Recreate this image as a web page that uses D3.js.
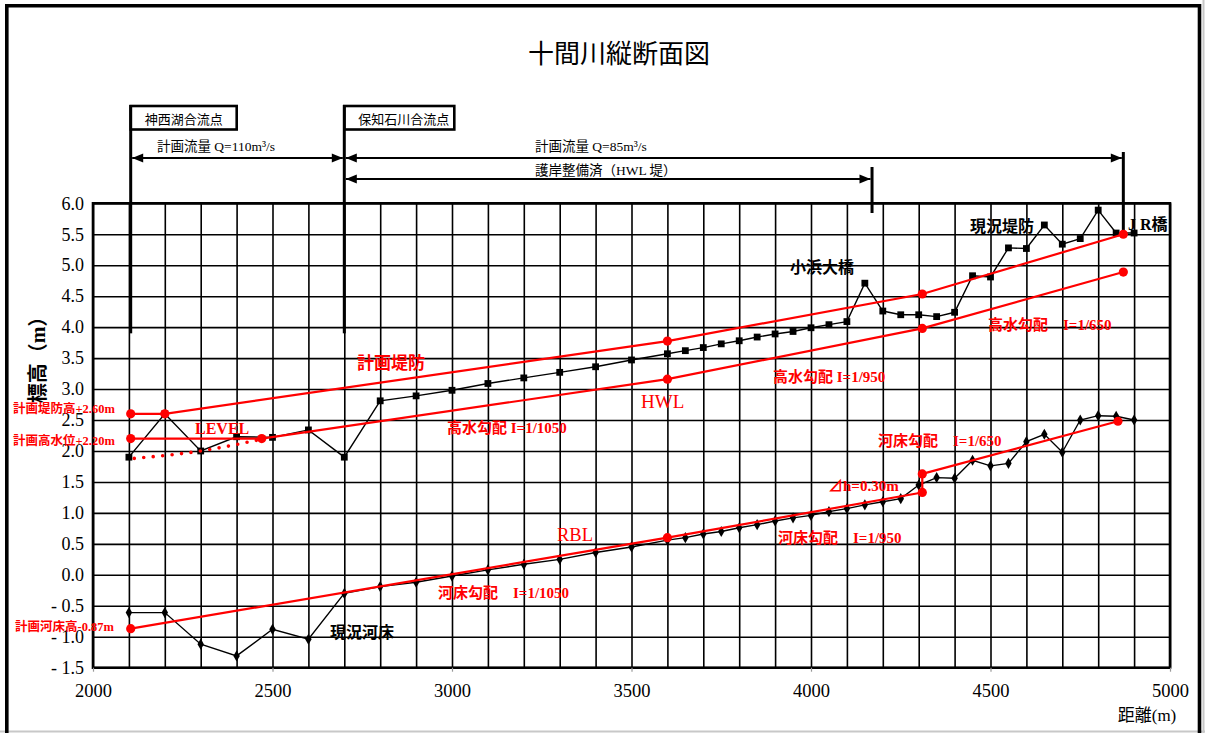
<!DOCTYPE html>
<html>
<head>
<meta charset="utf-8">
<script src="https://cdn.jsdelivr.net/npm/d3@7/dist/d3.min.js"></script>
<style>
  html, body { margin: 0; padding: 0; background: #fff; }
  svg { display: block; }
</style>
</head>
<body>
<svg id="chart" width="1205" height="733"></svg>
<script>
// ---- Data -------------------------------------------------------------
// Survey stations (m): every 100 m to 3600, then every 50 m
const stations = [2100,2200,2300,2400,2500,2600,2700,2800,2900,3000,3100,3200,3300,3400,3500,3600,
  3650,3700,3750,3800,3850,3900,3950,4000,4050,4100,4150,4200,4250,4300,4350,4400,4450,4500,
  4550,4600,4650,4700,4750,4800,4850,4900];
// 現況堤防 (existing levee crown, m)
const leveeExisting = [1.90,2.60,2.00,2.23,2.22,2.34,1.90,2.81,2.89,2.98,3.09,3.18,3.27,3.36,3.47,3.57,
  3.62,3.67,3.73,3.78,3.84,3.89,3.93,3.99,4.04,4.09,4.71,4.26,4.20,4.20,4.17,4.24,4.83,4.81,
  5.28,5.27,5.65,5.34,5.43,5.89,5.52,5.52];
// 現況河床 (existing river bed, m)
const bedExisting = [-0.61,-0.61,-1.12,-1.31,-0.88,-1.04,-0.30,-0.19,-0.12,-0.02,0.08,0.17,0.25,0.36,0.45,0.56,
  0.60,0.66,0.70,0.76,0.81,0.87,0.92,0.96,1.02,1.07,1.13,1.18,1.23,1.45,1.57,1.56,1.85,1.76,
  1.80,2.15,2.27,1.98,2.50,2.57,2.56,2.50];

// 計画堤防 (planned levee)
const planLeveeDist = [2105, 2200, 3600, 4310, 4870];
const planLeveeElev = [2.60, 2.60, 3.775, 4.535, 5.50];
// HWL (planned high water level)
const hwlDist = [2105, 2470, 3600, 4310, 4870];
const hwlElev = [2.20, 2.20, 3.16, 3.98, 4.89];
// RBL (planned river bed), lower reach and upper reach (step Δh = 0.30 m)
const rblLowerDist = [2105, 3600, 4310];
const rblLowerElev = [-0.87, 0.60, 1.33];
const rblUpperDist = [4310, 4855];
const rblUpperElev = [1.63, 2.48];
// LEVEL transition (dotted)
const levelDist = [2115, 2300, 2470];
const levelElev = [1.88, 2.00, 2.19];

// Axis ticks
const xLabelTicks = [2000, 2500, 3000, 3500, 4000, 4500, 5000];
const xGridTicks = d3.range(2000, 5001, 100);
const yTicks = d3.range(-1.5, 6.01, 0.5);

// ---- Layout -----------------------------------------------------------
const svg = d3.select("#chart");
const W = 1205, H = 733;
const plot = { left: 93, right: 1170, top: 203.3, bottom: 667.7 };
const x = d3.scaleLinear().domain([2000, 5000]).range([plot.left, plot.right]);
const y = d3.scaleLinear().domain([-1.5, 6.0]).range([plot.bottom, plot.top]);

const SERIF = "'Liberation Serif', 'Times New Roman', 'Noto Sans CJK JP', serif";
const CJK = "'Liberation Serif', 'Noto Sans CJK JP', sans-serif";
const RED = "#ff0000";

// Outer frame
svg.append("rect").attr("x", 0).attr("y", 0).attr("width", W).attr("height", H).attr("fill", "#fff");
svg.append("line").attr("x1", 0).attr("x2", W).attr("y1", 731.5).attr("y2", 731.5)
  .attr("stroke", "#c8c8c8").attr("stroke-width", 2);
svg.append("line").attr("x1", 1203.5).attr("x2", 1203.5).attr("y1", 0).attr("y2", H)
  .attr("stroke", "#c8c8c8").attr("stroke-width", 2);
svg.append("path")
  .attr("d", `M6.8,${H + 5} V5.8 H1199.5 V${H + 5}`)
  .attr("fill", "none").attr("stroke", "#000").attr("stroke-width", 3.6);

// Title
svg.append("text").attr("x", 619).attr("y", 63)
  .attr("text-anchor", "middle")
  .attr("font-family", "'Noto Sans CJK JP', sans-serif")
  .attr("font-size", 26).attr("fill", "#000")
  .text("十間川縦断面図");

// ---- Grid ---------------------------------------------------------------
const gGrid = svg.append("g");
gGrid.append("g")
  .attr("transform", `translate(0,${plot.bottom})`)
  .call(d3.axisBottom(x).tickValues(xGridTicks).tickSize(-(plot.bottom - plot.top)).tickFormat(""))
  .call(g => g.select(".domain").remove())
  .call(g => g.selectAll(".tick line").attr("stroke", "#000").attr("stroke-width", 1.6));
gGrid.append("g")
  .attr("transform", `translate(${plot.left},0)`)
  .call(d3.axisLeft(y).tickValues(yTicks).tickSize(-(plot.right - plot.left)).tickFormat(""))
  .call(g => g.select(".domain").remove())
  .call(g => g.selectAll(".tick line").attr("stroke", "#000").attr("stroke-width", 1.6));
svg.append("rect")
  .attr("x", plot.left).attr("y", plot.top)
  .attr("width", plot.right - plot.left).attr("height", plot.bottom - plot.top)
  .attr("fill", "none").attr("stroke", "#000").attr("stroke-width", 2.6);

// Axis labels
svg.append("g")
  .attr("transform", `translate(0,${plot.bottom})`)
  .call(d3.axisBottom(x).tickValues(xLabelTicks).tickSize(4).tickPadding(12).tickFormat(d3.format("d")))
  .call(g => g.select(".domain").remove())
  .call(g => g.selectAll(".tick line").attr("stroke", "#999").attr("stroke-width", 1.2))
  .call(g => g.selectAll(".tick text")
    .attr("font-family", SERIF).attr("font-size", 18.5).attr("fill", "#000"));
svg.append("g")
  .attr("transform", `translate(${plot.left - 9},0)`)
  .call(d3.axisLeft(y).tickValues(yTicks).tickSize(0).tickPadding(0)
    .tickFormat(v => v < 0 ? "- " + Math.abs(v).toFixed(1) : v.toFixed(1)))
  .call(g => g.select(".domain").remove())
  .call(g => g.selectAll(".tick text")
    .attr("font-family", SERIF).attr("font-size", 18).attr("fill", "#000"));

svg.append("text").attr("x", 1147).attr("y", 721).attr("text-anchor", "middle")
  .attr("font-family", CJK).attr("font-size", 17).attr("fill", "#000")
  .text("距離(m)");
svg.append("text")
  .attr("transform", `translate(45,355) rotate(-90)`)
  .attr("text-anchor", "middle")
  .attr("font-family", CJK).attr("font-weight", 700).attr("font-size", 20).attr("fill", "#000")
  .text("標高（m）");

// ---- Top annotations --------------------------------------------------------
const ann = svg.append("g");
function vbar(xv, y1, y2) {
  ann.append("line").attr("x1", x(xv)).attr("x2", x(xv)).attr("y1", y1).attr("y2", y2)
    .attr("stroke", "#000").attr("stroke-width", 3);
}
function box(xv, w, label) {
  ann.append("rect").attr("x", x(xv)).attr("y", 106).attr("width", w).attr("height", 23.5)
    .attr("fill", "#fff").attr("stroke", "#000").attr("stroke-width", 2.6);
  ann.append("text").attr("x", x(xv) + 14).attr("y", 124)
    .attr("font-family", "'Noto Sans CJK JP', sans-serif").attr("font-size", 13).attr("fill", "#000")
    .text(label);
}
function head(px, py, dir) {
  const L = 11, h = 4.5;
  ann.append("path")
    .attr("d", `M${px},${py} L${px - dir * L},${py - h} L${px - dir * L},${py + h} Z`)
    .attr("fill", "#000");
}
function arrow(x1v, x2v, py, both) {
  const a = x(x1v) + 1.5, b = x(x2v) - 1.5;
  ann.append("line").attr("x1", a).attr("x2", b).attr("y1", py).attr("y2", py)
    .attr("stroke", "#000").attr("stroke-width", 2);
  head(b, py, 1);
  if (both) head(a, py, -1);
}
box(2105, 106, "神西湖合流点");
box(2700, 110, "保知石川合流点");
vbar(2105, 105, y(3.9));
vbar(2700, 105, y(3.9));
vbar(4170, 167, 213);
vbar(4870, 152, y(5.5));
arrow(2105, 2700, 158, true);
arrow(2700, 4870, 158, true);
arrow(2700, 4170, 179, true);
function note(t, px, py) {
  ann.append("text").attr("x", px).attr("y", py)
    .attr("font-family", CJK).attr("font-size", 13.5).attr("fill", "#000").text(t);
}
note("計画流量 Q=110m³/s", 157, 151);
note("計画流量 Q=85m³/s", 535, 151);
note("護岸整備済（HWL 堤）", 535, 175);

// ---- Series -------------------------------------------------------------------
const line = d3.line().x(d => x(d[0])).y(d => y(d[1]));
const zip = (a, b) => a.map((v, i) => [v, b[i]]);

const levee = zip(stations, leveeExisting);
const bed = zip(stations, bedExisting);

// Existing levee
svg.append("path").datum(levee).attr("d", line)
  .attr("fill", "none").attr("stroke", "#000").attr("stroke-width", 1.4);
svg.append("g").selectAll("rect").data(levee).join("rect")
  .attr("x", d => x(d[0]) - 3.4).attr("y", d => y(d[1]) - 3.4)
  .attr("width", 6.8).attr("height", 6.8).attr("fill", "#000");

// Existing river bed
svg.append("path").datum(bed).attr("d", line)
  .attr("fill", "none").attr("stroke", "#000").attr("stroke-width", 1.4);
svg.append("g").selectAll("path").data(bed).join("path")
  .attr("d", d3.symbol(d3.symbolDiamond, 36))
  .attr("transform", d => `translate(${x(d[0])},${y(d[1])})`)
  .attr("fill", "#000");

// Planned lines
const planLevee = zip(planLeveeDist, planLeveeElev);
const hwl = zip(hwlDist, hwlElev);
const rblLower = zip(rblLowerDist, rblLowerElev);
const rblUpper = zip(rblUpperDist, rblUpperElev);
const level = zip(levelDist, levelElev);

svg.append("path").datum(level).attr("d", line.curve(d3.curveMonotoneX))
  .attr("fill", "none").attr("stroke", RED).attr("stroke-width", 3.6)
  .attr("stroke-linecap", "round").attr("stroke-dasharray", "0 9.5");
line.curve(d3.curveLinear);

[planLevee, hwl, rblLower, rblUpper].forEach(s => {
  svg.append("path").datum(s).attr("d", line)
    .attr("fill", "none").attr("stroke", RED).attr("stroke-width", 2.2);
});
// Δh step between the two bed gradients
svg.append("path").datum([rblLower[rblLower.length - 1], rblUpper[0]]).attr("d", line)
  .attr("fill", "none").attr("stroke", RED).attr("stroke-width", 2.2);

const dots = [].concat(planLevee, hwl, rblLower, rblUpper);
svg.append("g").selectAll("circle").data(dots).join("circle")
  .attr("cx", d => x(d[0])).attr("cy", d => y(d[1])).attr("r", 4.6).attr("fill", RED);

// ---- Labels -------------------------------------------------------------------
const labels = [
  { t: "計画堤防", px: 357, py: 369, s: 17, c: RED, w: 700 },
  { t: "計画堤防高+2.60m", px: 13, py: 413, s: 12.5, c: RED, w: 700 },
  { t: "計画高水位+2.20m", px: 13, py: 445, s: 12.5, c: RED, w: 700 },
  { t: "計画河床高-0.87m", px: 15, py: 631, s: 12.5, c: RED, w: 700 },
  { t: "LEVEL", px: 195, py: 434, s: 16, c: RED, w: 700 },
  { t: "高水勾配 I=1/1050", px: 447, py: 433, s: 15, c: RED, w: 700 },
  { t: "HWL", px: 641, py: 408, s: 19, c: RED, w: 400 },
  { t: "RBL", px: 557, py: 541, s: 18.5, c: RED, w: 400 },
  { t: "河床勾配　I=1/1050", px: 438, py: 598, s: 15, c: RED, w: 700 },
  { t: "高水勾配 I=1/950", px: 773, py: 382, s: 15, c: RED, w: 700 },
  { t: "高水勾配　I=1/650", px: 988, py: 330, s: 15, c: RED, w: 700 },
  { t: "河床勾配　I=1/650", px: 878, py: 446, s: 15, c: RED, w: 700 },
  { t: "⊿h=0.30m", px: 828, py: 491, s: 15, c: RED, w: 700 },
  { t: "河床勾配　I=1/950", px: 778, py: 543, s: 15, c: RED, w: 700 },
  { t: "現況河床", px: 330, py: 638, s: 16, c: "#000", w: 700 },
  { t: "小浜大橋", px: 790, py: 273, s: 16, c: "#000", w: 700 },
  { t: "現況堤防", px: 970, py: 232, s: 16, c: "#000", w: 700 },
  { t: "J R橋", px: 1128, py: 230, s: 16, c: "#000", w: 700 }
];
svg.append("g").selectAll("text").data(labels).join("text")
  .attr("x", d => d.px).attr("y", d => d.py)
  .attr("font-family", CJK).attr("font-size", d => d.s)
  .attr("font-weight", d => d.w).attr("fill", d => d.c)
  .text(d => d.t);
</script>
</body>
</html>
